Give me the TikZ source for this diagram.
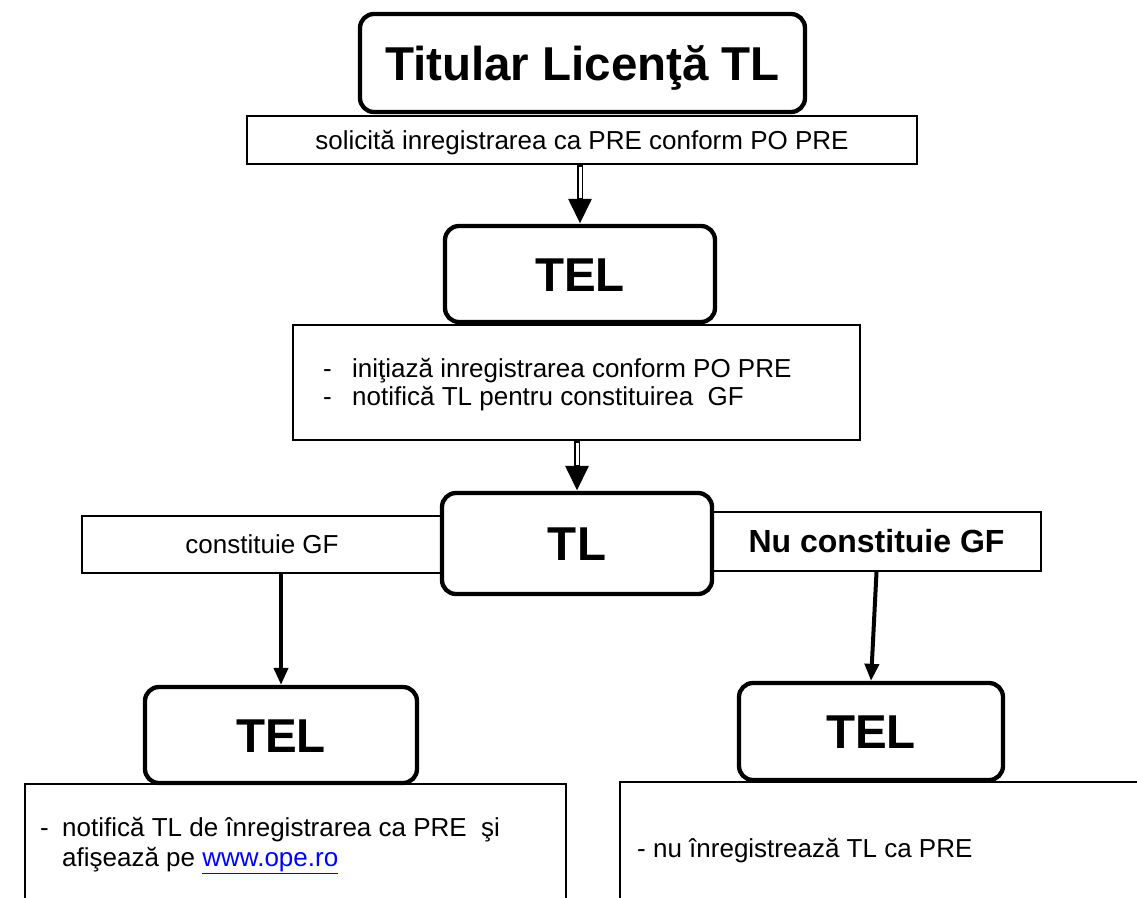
\documentclass[tikz,border=0pt]{standalone}
\usepackage{fontspec}
\setmainfont{Liberation Sans}
\usetikzlibrary{arrows.meta}
\definecolor{linkblue}{RGB}{0,0,255}
\begin{document}
\begin{tikzpicture}[x=1pt,y=-1pt,
  main node/.style={draw,line width=4.3pt,rounded corners=14pt,font=\fontsize{47.5}{56}\selectfont\bfseries,text height=34pt,text depth=0pt},
  text box/.style={draw,line width=2pt,font=\fontsize{26}{30}\selectfont,text height=18.6pt,text depth=0pt},
  list text/.style={font=\fontsize{26}{30}\selectfont,inner sep=0pt,anchor=base west},
  dbl arrow/.style={line width=5.8pt,-{Triangle[width=22pt,length=25pt]},postaction={draw=white,line width=3pt,shorten <=1.5pt,shorten >=26pt,-}},
  flow arrow/.style={line width=4pt,-{Triangle[width=14pt,length=17pt]}}]
\useasboundingbox (0,0) rectangle (1137,897);
\clip (0,0) rectangle (1137,897);
\node [main node,minimum width=445pt,minimum height=98pt] (titlu) at (582.5,63) {Titular Licenţă TL};
\node [text box,minimum width=670pt,minimum height=48pt] (sol) at (582,140) {solicită inregistrarea ca PRE conform PO PRE};
\node [main node,minimum width=270pt,minimum height=96pt] (tel1) at (580,274) {TEL};
\node [text box,minimum width=567pt,minimum height=115pt] (init) at (576.5,382.5) {};
\node [list text] (d1) at (323,377) {-};
\node [list text] (t1) at (352,377) {iniţiază inregistrarea conform PO PRE};
\node [list text] (d2) at (323,405) {-};
\node [list text] (t2) at (352,405) {notifică TL pentru constituirea~ GF};
\node [text box,minimum width=360pt,minimum height=57pt] (da) at (262,544.5) {constituie GF};
\node [text box,minimum width=329pt,minimum height=59pt,font=\fontsize{32}{36}\selectfont\bfseries,text height=22.9pt] (nu) at (876.5,541.5) {Nu constituie GF};
\node [main node,minimum width=270pt,minimum height=101pt] (tl) at (577,543.5) {TL};
\node [main node,minimum width=272pt,minimum height=96pt] (tels) at (281,735) {TEL};
\node [main node,minimum width=264pt,minimum height=97pt] (teld) at (871,731.5) {TEL};
\node [text box,minimum width=541pt,minimum height=150pt] (notif) at (295.5,859) {};
\node [list text] (d3) at (40,836) {-};
\node [list text] (t3) at (62,836) {notifică TL de înregistrarea ca PRE~ şi};
\node [list text] (t4) at (62,866) {afişează pe \textcolor{linkblue}{\underline{www.ope.ro}}};
\node [text box,minimum width=600pt,minimum height=150pt] (neinreg) at (920,857) {};
\node [list text] (t5) at (637,857) {- nu înregistrează TL ca PRE};
\draw [dbl arrow] (sol.south -| tel1.north) -- (tel1.north);
\draw [dbl arrow] (init.south -| tl.north) -- (tl.north);
\draw [flow arrow] (da.south -| tels.north) -- (tels.north);
\draw [flow arrow] (nu.south) -- (teld.north);
\end{tikzpicture}
\end{document}
